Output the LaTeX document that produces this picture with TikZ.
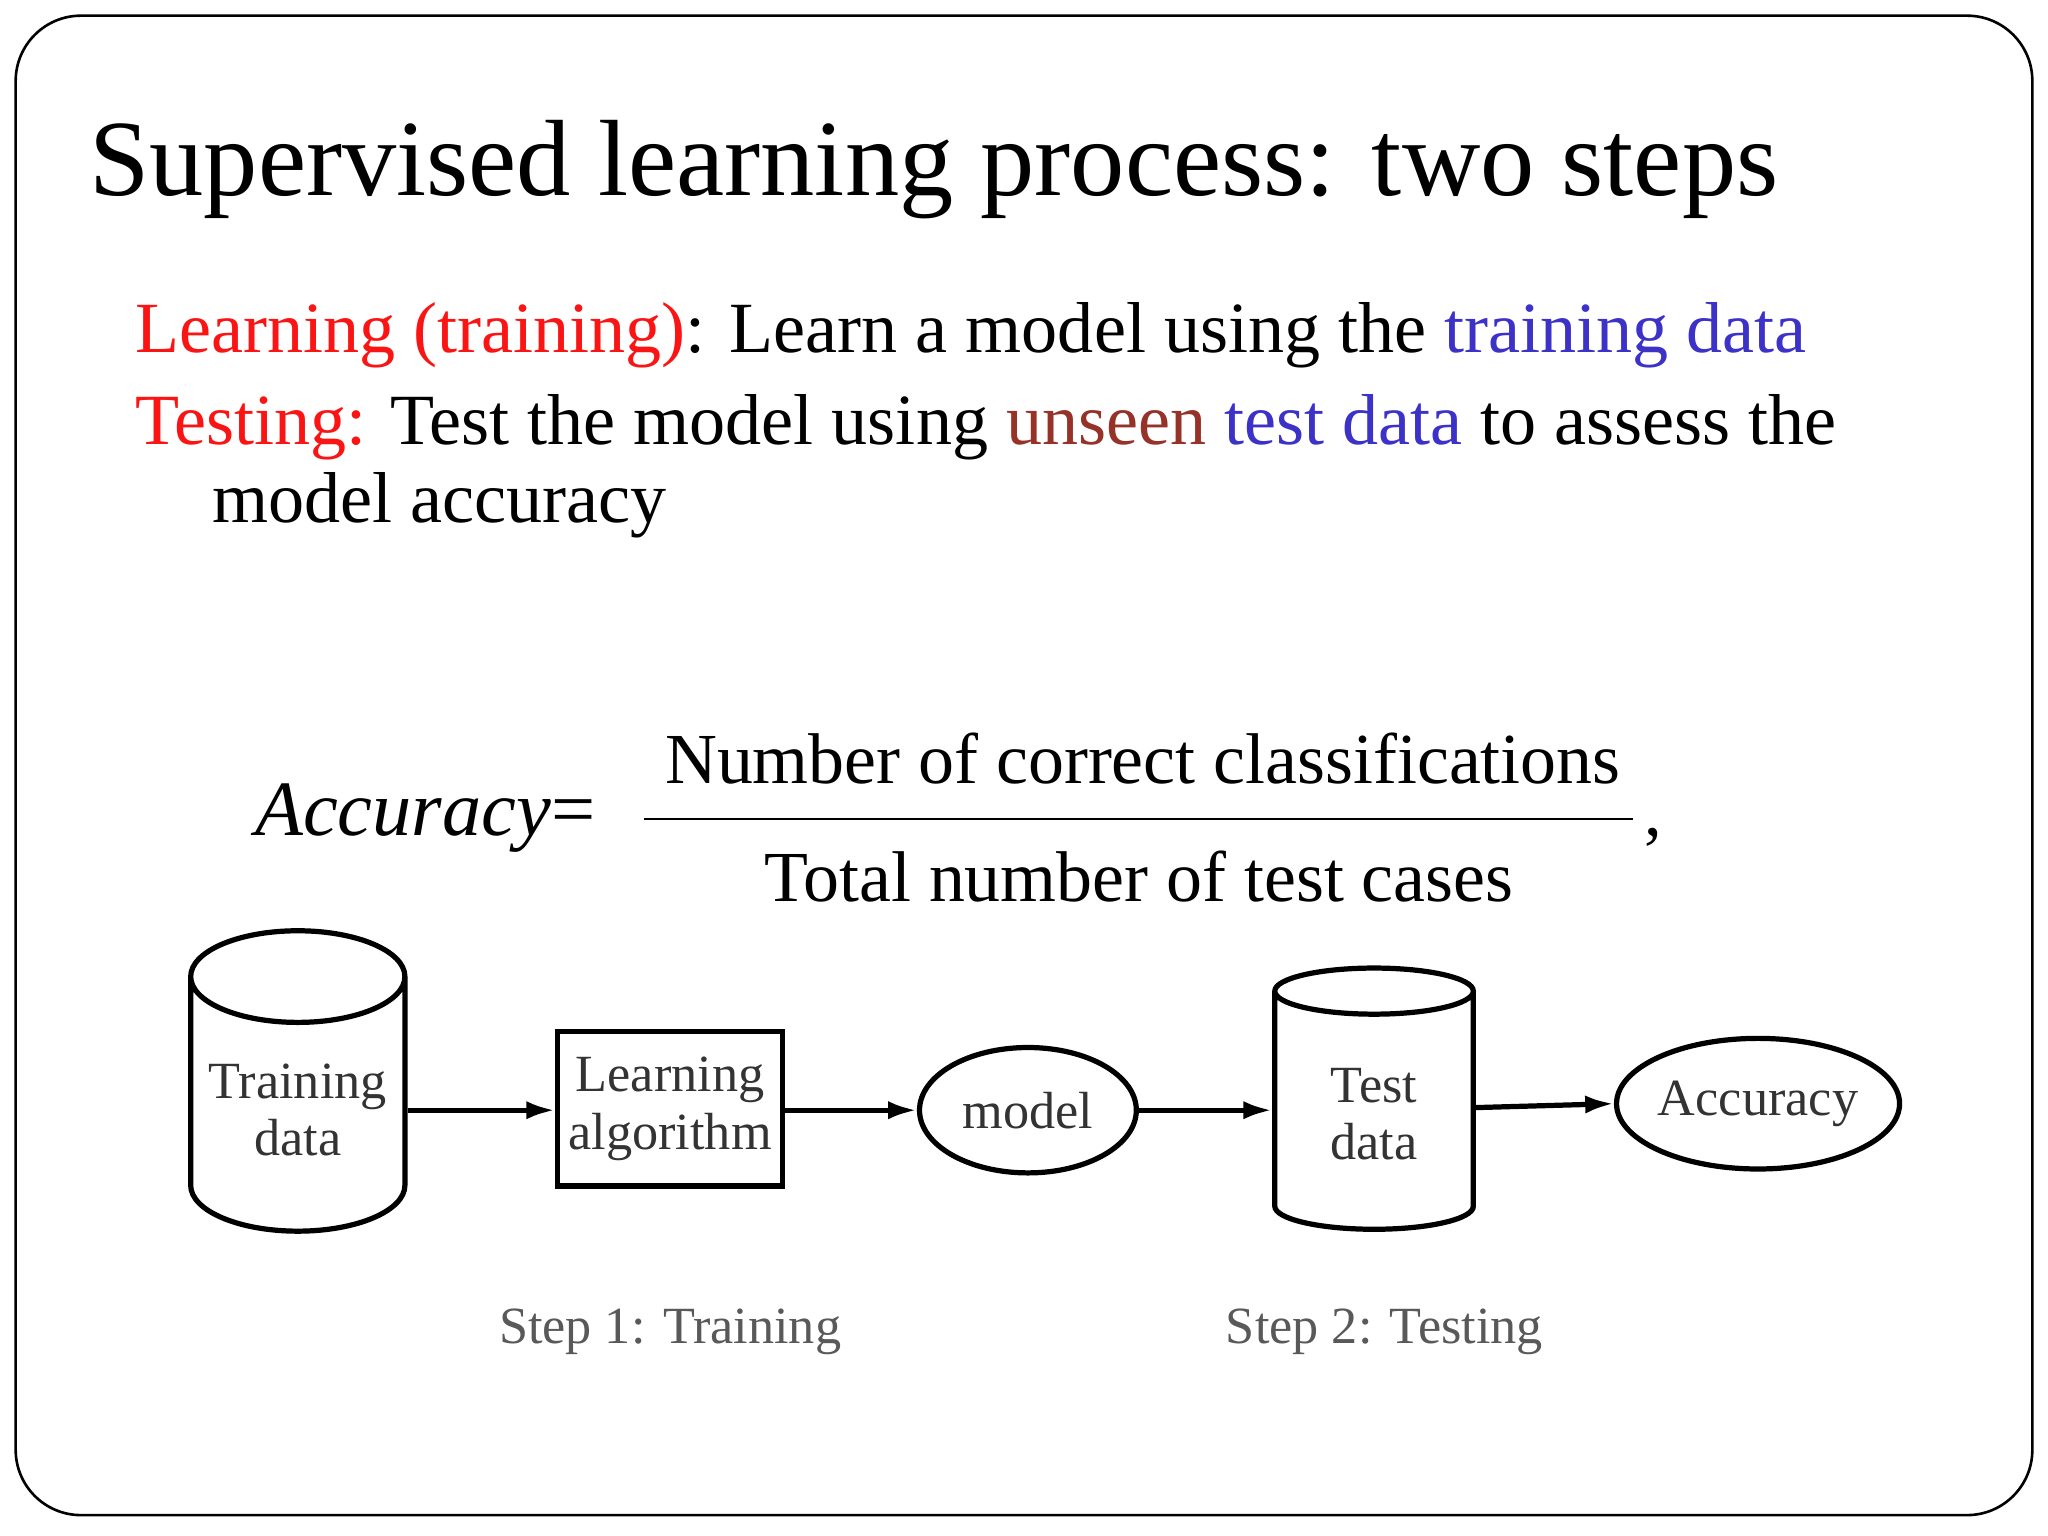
\documentclass[tikz,border=0pt]{standalone}
\usepackage{fontspec}
\setmainfont{Liberation Serif}
\usetikzlibrary{shapes.geometric,arrows.meta}
\definecolor{myred}{RGB}{250,20,20}
\definecolor{myblue}{RGB}{60,50,200}
\definecolor{mybrown}{RGB}{150,50,40}
\begin{document}
\begin{tikzpicture}[x=0.5pt,y=-0.5pt,
  shp/.style={draw,line width=2pt,font=\fontsize{20}{22}\selectfont,text=black!80,align=center,inner sep=1pt},
  cyl/.style={shp,cylinder,shape border rotate=90,aspect=0.5},
  arr/.style={line width=2pt,-{Latex[length=11pt,width=7pt]}},
  txt/.style={anchor=base west,inner sep=0pt,font=\fontsize{27.6}{30}\selectfont}]
\useasboundingbox (0,0) rectangle (1568,1176);
\draw[line width=1pt,rounded corners=25pt] (12,12) rectangle (1556,1160);
\node[txt,font=\fontsize{41.5}{44}\selectfont] (title) at (68,150) {Supervised learning process: two steps};
\node[txt] (l1) at (103,270) {\textcolor{myred}{Learning (training)}: Learn a model using the \textcolor{myblue}{training data}};
\node[txt] (l2) at (103,340) {\textcolor{myred}{Testing:} Test the model using \textcolor{mybrown}{unseen} \textcolor{myblue}{test data} to assess the};
\node[txt] (l3) at (162,400) {model accuracy};
\node[txt,font=\fontsize{30}{32}\selectfont] (acc) at (195,640) {\textit{Accuracy}=};
\draw[line width=1pt] (493,627) coordinate (f1) -- (1250,627) coordinate (f2);
\node[anchor=base,inner sep=0pt,font=\fontsize{27.5}{30}\selectfont] (num) at (875,600) {Number of correct classifications};
\node[anchor=base,inner sep=0pt,font=\fontsize{27.5}{30}\selectfont] (den) at (872,690) {Total number of test cases};
\node[anchor=base,inner sep=0pt,font=\fontsize{27}{30}\selectfont] (comma) at (1266,640) {,};
\node[cyl,minimum width=82pt,minimum height=115pt] (train) at (228,850) {Training\\data};
\node[shp,rectangle,minimum width=86pt,minimum height=59pt] (alg) at (513,849) {Learning\\algorithm};
\node[shp,ellipse,inner sep=0pt,minimum width=83pt,minimum height=48pt] (model) at (787,850) {model};
\node[cyl,minimum width=76pt,minimum height=100pt] (test) at (1052,853) {Test\\data};
\node[shp,ellipse,inner sep=0pt,minimum width=94pt,minimum height=50pt] (accn) at (1346,845) {Accuracy};
\draw[arr] (train.east|-0,850) -- (alg.west|-0,850);
\draw[arr] (alg.east|-0,850) -- (model.west);
\draw[arr] (model.east) -- (test.west|-0,850);
\draw[arr] (test.east|-0,848) -- (accn.west);
\node[font=\fontsize{20}{22}\selectfont,text=black!65] (s1) at (513,1020) {Step 1: Training};
\node[font=\fontsize{20}{22}\selectfont,text=black!65] (s2) at (1060,1020) {Step 2: Testing};
\end{tikzpicture}
\end{document}
